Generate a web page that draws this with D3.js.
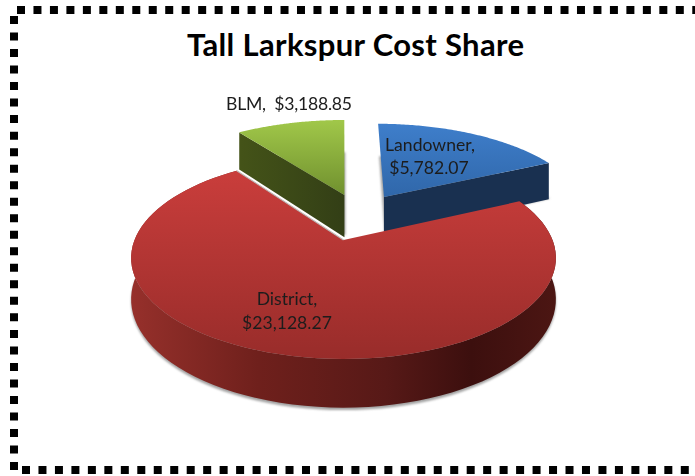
<!DOCTYPE html>
<html><head><meta charset="utf-8">
<script src="https://cdn.jsdelivr.net/npm/d3@7"></script>
<style>html,body{margin:0;padding:0;background:#fff;overflow:hidden}svg{display:block}text{font-family:Lato,"Open Sans",sans-serif;white-space:pre}</style>
</head><body><svg id="c" width="695" height="476"></svg>
<script>
const categories = ["Landowner", "District", "BLM"];
const costs = [5782.07, 23128.27, 3188.85];
const title = "Tall Larkspur Cost Share";

const W = 695, H = 476;
const svg = d3.select("#c");
const defs = svg.append("defs");
function grad(id, x1, y1, x2, y2, stops) {
  const g = defs.append("linearGradient").attr("id", id).attr("gradientUnits", "userSpaceOnUse")
    .attr("x1", x1).attr("y1", y1).attr("x2", x2).attr("y2", y2);
  stops.forEach(s => g.append("stop").attr("offset", s[0]).attr("stop-color", s[1]));
}
grad("redTop", 0, 165, 0, 360, [[0, "#cb3e3c"], [1, "#982c2a"]]);
grad("redSide", 131, 0, 556, 0, [[0, "#96302b"], [0.3, "#6f201c"], [0.6, "#571917"], [0.8, "#3c0f0e"], [1, "#4c1613"]]);
grad("blueTop", 0, 121, 0, 200, [[0, "#3f7fcc"], [1, "#2f66a8"]]);
grad("greenTop", 0, 118, 0, 197, [[0, "#a2c94a"], [1, "#6f8f2e"]]);
grad("greenSide", 241, 0, 343, 0, [[0, "#445318"], [1, "#333f16"]]);
const blur = defs.append("filter").attr("id", "soft").attr("x", "-10%").attr("y", "-10%").attr("width", "120%").attr("height", "120%");
blur.append("feGaussianBlur").attr("stdDeviation", 1.2);
const textBlur = defs.append("filter").attr("id", "tb");
textBlur.append("feGaussianBlur").attr("stdDeviation", 0.3);

// dotted frame
const frame = d3.line();
[[[17, 10], [W + 8, 10], "8 8.47"], [[14, 16], [14, 470], "8 8.52"], [[22, 470], [W + 8, 470], "8 8.47"]].forEach(f => {
  svg.append("path").attr("d", frame([f[0], f[1]])).attr("fill", "none").attr("stroke", "#000")
    .attr("stroke-width", 8).attr("stroke-dasharray", f[2]);
});

// perspective projection of the pie plane
const cx = 343.5, cy = 240, a = 209, b = 97.8, p = 0.178, depth = 40;
function proj(X, Y, z) {
  const s = 1 / (1 - p * Y);
  return [cx + a * X * s, cy + b * Y * s + z * depth * s];
}
const pie = d3.pie().sort(null).value(d => d);
const arcs = pie(costs);
const explode = [[0.21, -0.477, 1.03], [0, 0, 1], [0.005, -0.5, 1.07]];
function rim(d, i, z) {
  const [ox, oy, r] = explode[i];
  const n = 90, pts = [];
  d3.range(n + 1).forEach(k => {
    const t = d.startAngle + (d.endAngle - d.startAngle) * k / n;
    pts.push(proj(ox + r * Math.sin(t), oy - r * Math.cos(t), z));
  });
  return pts;
}
const apex = (i, z) => proj(explode[i][0], explode[i][1], z);
const closed = d3.line().curve(d3.curveLinearClosed);
const topFace = (d, i) => closed([apex(i, 0), ...rim(d, i, 0)]);
const outerWall = (d, i) => closed([...rim(d, i, 0), ...rim(d, i, 1).reverse()]);

// shadows
[0, 2].forEach(i => {
  const sh = [...rim(arcs[i], i, 1.03), apex(i, 1.1)];
  svg.append("path").attr("d", closed(sh)).attr("fill", "#a2a2a2").attr("filter", "url(#soft)")
    .attr("transform", "translate(1,0)");
});
svg.append("path").attr("d", closed([...rim(arcs[1], 1, 1.03), apex(1, 1)])).attr("fill", "#a2a2a2")
  .attr("filter", "url(#soft)").attr("transform", "translate(0,1)");
// blue slice
{
  const r0 = rim(arcs[0], 0, 0), r1 = rim(arcs[0], 0, 1.05);
  svg.append("path").attr("d", closed([apex(0, 0), r0[90], r1[90], apex(0, 1.05)])).attr("fill", "#193050");
  svg.append("path").attr("d", topFace(arcs[0], 0)).attr("fill", "url(#blueTop)");
}
// green slice
{
  const r0 = rim(arcs[2], 2, 0), r1 = rim(arcs[2], 2, 1.15);
  svg.append("path").attr("d", closed([apex(2, 0), r0[0], r1[0], apex(2, 1.15)])).attr("fill", "url(#greenSide)");
  svg.append("path").attr("d", topFace(arcs[2], 2)).attr("fill", "url(#greenTop)");
}
// district slice
const rRed = rim(arcs[1], 1, 0);
svg.append("path").attr("d", outerWall(arcs[1], 1)).attr("fill", "url(#redSide)");
svg.append("path").attr("d", topFace(arcs[1], 1)).attr("fill", "url(#redTop)");
// thin grey edge where the green slice's shadow meets the district slice
svg.append("path").attr("d", d3.line()([apex(1, 0), rRed[90]])).attr("stroke", "#bdb8b5").attr("stroke-width", 1.2).attr("fill", "none");

// title
svg.append("text").attr("x", 355.5).attr("y", 56).attr("text-anchor", "middle")
  .attr("font-size", 31).attr("font-weight", 700).attr("fill", "#000")
  .attr("textLength", 337).attr("lengthAdjust", "spacing").text(title);

// labels
const fmt = d3.format("$,.2f");
const lab = (txt, x, y) => svg.append("text").attr("x", x).attr("y", y).attr("text-anchor", "middle")
  .attr("font-size", 17.6).attr("fill", "#1c1c1c").attr("filter", "url(#tb)").text(txt);
lab(`${categories[2]},  ${fmt(costs[2])}`, 289, 110).attr("textLength", 126).attr("lengthAdjust", "spacing");
lab(`${categories[0]},`, 430, 150.5);
lab(fmt(costs[0]), 429, 173.5);
lab(`${categories[1]},`, 287, 305);
lab(fmt(costs[1]), 287, 328.5);
</script></body></html>
